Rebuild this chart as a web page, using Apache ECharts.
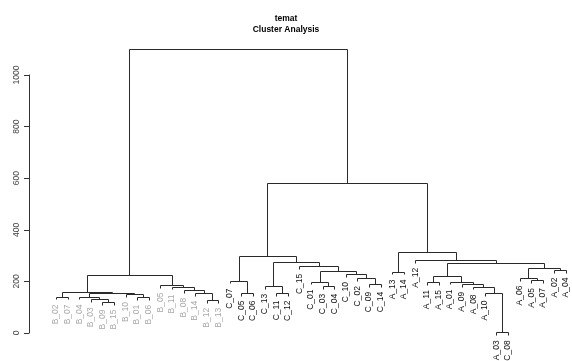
<!DOCTYPE html>
<html>
<head>
<meta charset="utf-8">
<script src="https://cdn.jsdelivr.net/npm/echarts@6/dist/echarts.min.js"></script>
<style>
html,body{margin:0;padding:0;background:#fff;}
#chart{width:572px;height:361px;}
</style>
</head>
<body>
<div id="chart"></div>
<script>
// Leaf labels in dendrogram order
const leafLabels = [
  "B_02","B_07","B_04","B_03","B_09","B_15","B_10","B_01","B_06","B_05","B_11","B_08","B_14","B_12","B_13",
  "C_07","C_05","C_06","C_13","C_11","C_12","C_15","C_01","C_03","C_04","C_10","C_02","C_09","C_14",
  "A_13","A_14","A_12","A_11","A_15","A_01","A_09","A_08","A_10","A_03","C_08","A_06","A_05","A_07","A_02","A_04"
];
// Merge steps: [left, right, height]; strings are leaves, numbers refer to earlier merge rows
const merges = [
  ["B_02","B_07",141],   // 0
  ["B_09","B_15",121],   // 1
  ["B_03",1,130],        // 2
  ["B_04",2,141],        // 3
  ["B_01","B_06",140],   // 4
  ["B_10",4,150],        // 5
  [3,5,155],             // 6
  [0,6,160],             // 7
  ["B_12","B_13",128],   // 8
  ["B_14",8,155],        // 9
  ["B_08",9,167],        // 10
  ["B_11",10,180],       // 11
  ["B_05",11,187],       // 12
  [7,12,225],            // 13
  ["C_05","C_06",156],   // 14
  ["C_07",14,203],       // 15
  ["C_11","C_12",156],   // 16
  ["C_13",16,182],       // 17
  ["C_03","C_04",182],   // 18
  ["C_01",18,199],       // 19
  ["C_09","C_14",190],   // 20
  ["C_02",20,212],       // 21
  ["C_10",21,228],       // 22
  [19,22,241],           // 23
  ["C_15",23,260],       // 24
  [17,24,276],           // 25
  [15,25,300],           // 26
  ["A_13","A_14",238],   // 27
  ["A_11","A_15",197],   // 28
  ["A_03","C_08",2],     // 29
  ["A_10",29,156],       // 30
  ["A_08",30,180],       // 31
  ["A_09",31,190],       // 32
  ["A_01",32,199],       // 33
  [28,33,222],           // 34
  ["A_05","A_07",205],   // 35
  ["A_06",35,214],       // 36
  ["A_02","A_04",245],   // 37
  [36,37,252],           // 38
  [34,38,270],           // 39
  ["A_12",39,283],       // 40
  [27,40,315],           // 41
  [26,41,581],           // 42
  [13,42,1100]           // 43
];
const yTicks = [0,200,400,600,800,1000];
const titleLines = ["temat","Cluster Analysis"];
const hangFrac = 0.01;

// Build segments through data coordinates
const maxH = Math.max(...merges.map(m => m[2]));
const hang = hangFrac * maxH;
const nodeX = [], nodeH = [];
const segs = [];
const leafBottom = {};
function childInfo(c, parentH) {
  if (typeof c === 'string') {
    const x = leafLabels.indexOf(c) + 1;
    const b = parentH - hang;
    leafBottom[c] = b;
    return [x, b];
  }
  return [nodeX[c], nodeH[c]];
}
merges.forEach((m, i) => {
  const h = m[2];
  const a = childInfo(m[0], h), b = childInfo(m[1], h);
  segs.push([a[0], a[1], a[0], h]);
  segs.push([b[0], b[1], b[0], h]);
  segs.push([a[0], h, b[0], h]);
  nodeX[i] = (a[0] + b[0]) / 2;
  nodeH[i] = h;
});
const labelData = leafLabels.map((l, i) => [i + 1, leafBottom[l], l]);

const chart = echarts.init(document.getElementById('chart'), null, {renderer: 'canvas'});
const FONT = 'Liberation Sans, Arial, sans-serif';
chart.setOption({
  animation: false,
  title: {
    text: titleLines.join('\n'),
    left: 'center',
    top: 8,
    textStyle: {fontFamily: FONT, fontSize: 8.5, fontWeight: 'bold', color: '#000', lineHeight: 11}
  },
  grid: {left: 29, right: 4, top: 75, bottom: 28},
  xAxis: {
    type: 'value', min: -1.33, max: 45.17, show: false
  },
  yAxis: {
    type: 'value', min: 0, max: 1000, interval: 200,
    splitLine: {show: false},
    axisLine: {show: true, onZero: false, lineStyle: {color: '#333', width: 1}},
    axisTick: {show: true, length: 5, lineStyle: {color: '#333'}},
    axisLabel: {rotate: 90, fontSize: 8.5, color: '#444', fontFamily: FONT, margin: 8,
      formatter: v => yTicks.includes(v) ? String(v) : ''}
  },
  series: [
    {
      type: 'custom',
      clip: false,
      data: segs,
      encode: {x: [0, 2], y: [1, 3]},
      renderItem: function (params, api) {
        const p1 = api.coord([api.value(0), api.value(1)]);
        const p2 = api.coord([api.value(2), api.value(3)]);
        const r = v => Math.round(v) + 0.5;
        return {
          type: 'line',
          shape: {x1: r(p1[0]), y1: r(p1[1]), x2: r(p2[0]), y2: r(p2[1])},
          style: {stroke: '#2a2a2a', lineWidth: 1}
        };
      }
    },
    {
      type: 'custom',
      clip: false,
      data: labelData,
      encode: {x: 0, y: 1},
      renderItem: function (params, api) {
        const p = api.coord([api.value(0), api.value(1)]);
        const txt = labelData[params.dataIndex][2];
        return {
          type: 'text',
          x: p[0], y: p[1] + 5,
          rotation: Math.PI / 2,
          style: {
            text: txt,
            fill: txt.indexOf('B_') === 0 ? '#a8a8a8' : '#111',
            font: '8.5px ' + FONT,
            align: 'right',
            verticalAlign: 'middle'
          }
        };
      }
    }
  ]
});
</script>
</body>
</html>
